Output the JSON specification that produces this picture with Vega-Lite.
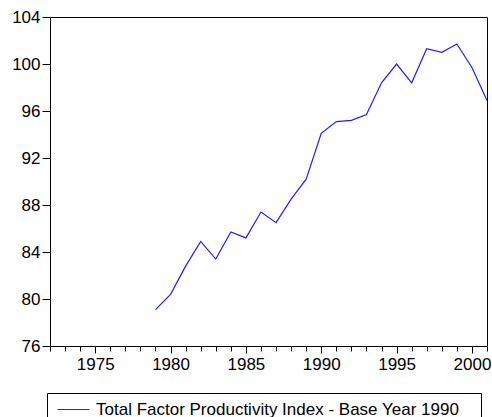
{
  "$schema": "https://vega.github.io/schema/vega-lite/v6.json",
  "width": 437,
  "height": 329,
  "autosize": "none",
  "padding": {"left": 50, "top": 17, "right": 5, "bottom": 71},
  "background": "white",
  "data": {
    "values": [
      {"year": 1979, "tfp": 79.1, "series": "Total Factor Productivity Index - Base Year 1990"},
      {"year": 1980, "tfp": 80.4, "series": "Total Factor Productivity Index - Base Year 1990"},
      {"year": 1981, "tfp": 82.8, "series": "Total Factor Productivity Index - Base Year 1990"},
      {"year": 1982, "tfp": 84.9, "series": "Total Factor Productivity Index - Base Year 1990"},
      {"year": 1983, "tfp": 83.4, "series": "Total Factor Productivity Index - Base Year 1990"},
      {"year": 1984, "tfp": 85.7, "series": "Total Factor Productivity Index - Base Year 1990"},
      {"year": 1985, "tfp": 85.2, "series": "Total Factor Productivity Index - Base Year 1990"},
      {"year": 1986, "tfp": 87.4, "series": "Total Factor Productivity Index - Base Year 1990"},
      {"year": 1987, "tfp": 86.5, "series": "Total Factor Productivity Index - Base Year 1990"},
      {"year": 1988, "tfp": 88.5, "series": "Total Factor Productivity Index - Base Year 1990"},
      {"year": 1989, "tfp": 90.2, "series": "Total Factor Productivity Index - Base Year 1990"},
      {"year": 1990, "tfp": 94.1, "series": "Total Factor Productivity Index - Base Year 1990"},
      {"year": 1991, "tfp": 95.1, "series": "Total Factor Productivity Index - Base Year 1990"},
      {"year": 1992, "tfp": 95.2, "series": "Total Factor Productivity Index - Base Year 1990"},
      {"year": 1993, "tfp": 95.7, "series": "Total Factor Productivity Index - Base Year 1990"},
      {"year": 1994, "tfp": 98.4, "series": "Total Factor Productivity Index - Base Year 1990"},
      {"year": 1995, "tfp": 100.0, "series": "Total Factor Productivity Index - Base Year 1990"},
      {"year": 1996, "tfp": 98.4, "series": "Total Factor Productivity Index - Base Year 1990"},
      {"year": 1997, "tfp": 101.3, "series": "Total Factor Productivity Index - Base Year 1990"},
      {"year": 1998, "tfp": 101.0, "series": "Total Factor Productivity Index - Base Year 1990"},
      {"year": 1999, "tfp": 101.7, "series": "Total Factor Productivity Index - Base Year 1990"},
      {"year": 2000, "tfp": 99.7, "series": "Total Factor Productivity Index - Base Year 1990"},
      {"year": 2001, "tfp": 96.9, "series": "Total Factor Productivity Index - Base Year 1990"}
    ]
  },
  "mark": {"type": "line", "strokeWidth": 1.2, "clip": true},
  "encoding": {
    "x": {
      "field": "year",
      "type": "quantitative",
      "scale": {"domain": [1972, 2001], "nice": false, "zero": false},
      "axis": {
        "title": null,
        "grid": false,
        "values": [1972,1973,1974,1975,1976,1977,1978,1979,1980,1981,1982,1983,1984,1985,1986,1987,1988,1989,1990,1991,1992,1993,1994,1995,1996,1997,1998,1999,2000,2001],
        "format": "d",
        "labelExpr": "datum.value % 5 === 0 ? datum.label : ''",
        "labelOverlap": false,
        "labelBound": false,
        "labelFlush": false,
        "tickSize": {"condition": {"test": "datum.value % 5 === 0", "value": 7}, "value": 5},
        "labelPadding": 3
      }
    },
    "y": {
      "field": "tfp",
      "type": "quantitative",
      "scale": {"domain": [76, 104], "nice": false, "zero": false},
      "axis": {
        "title": null,
        "grid": false,
        "values": [76, 80, 84, 88, 92, 96, 100, 104],
        "tickSize": 8,
        "labelPadding": 2
      }
    },
    "color": {
      "field": "series",
      "type": "nominal",
      "scale": {"range": ["#1f1fff"]},
      "legend": {
        "title": "\u00a0",
        "titleOrient": "right",
        "titlePadding": 14,
        "titleFontSize": 1,
        "orient": "none",
        "legendX": -3,
        "legendY": 376,
        "strokeColor": "#000000",
        "padding": 8,
        "symbolType": "M-4,0H4",
        "symbolSize": 64,
        "symbolOffset": 10,
        "symbolStrokeWidth": 1.2,
        "labelFontSize": 17,
        "labelOffset": 14,
        "labelLimit": 600,
        "labelColor": "#000000"
      }
    }
  },
  "config": {
    "font": "Liberation Sans",
    "view": {"stroke": "#000000", "strokeWidth": 1},
    "axis": {
      "domainColor": "#000000",
      "tickColor": "#000000",
      "labelColor": "#000000",
      "labelFontSize": 17,
      "labelFont": "Liberation Sans"
    },
    "legend": {"labelFont": "Liberation Sans"}
  }
}
